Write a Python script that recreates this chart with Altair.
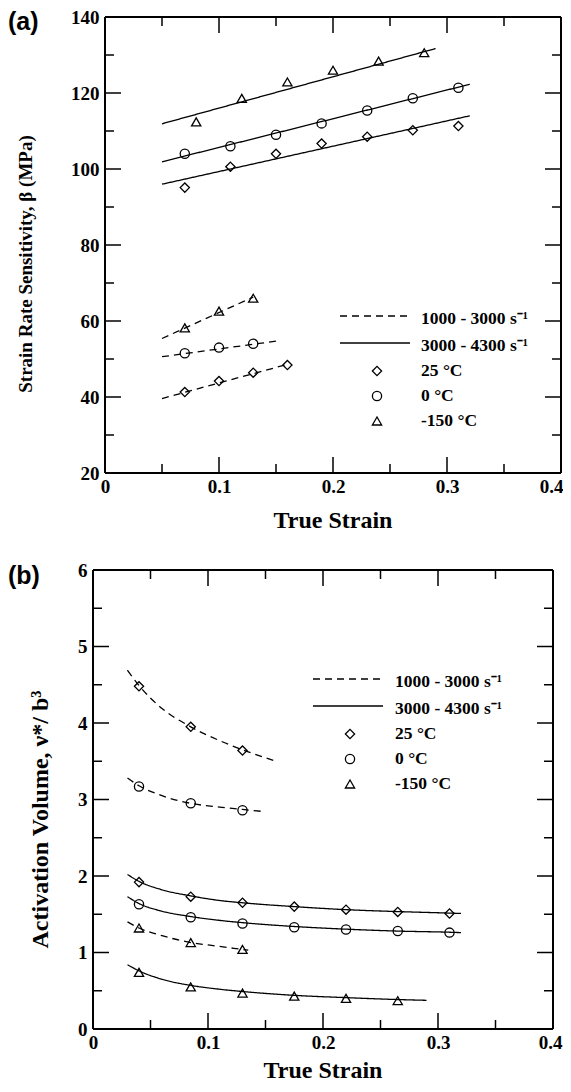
import altair as alt
import pandas as pd

SERIF = "Liberation Serif"
SANS = "Liberation Sans"

# ---------------- panel (a) data ----------------
a_x_hi = [0.07, 0.11, 0.15, 0.19, 0.23, 0.27, 0.31]
a_y_25_hi = [95.1, 100.6, 104.0, 106.7, 108.5, 110.2, 111.3]
a_y_0_hi = [104.0, 106.0, 109.0, 112.0, 115.4, 118.6, 121.4]
a_x_m150_hi = [0.08, 0.12, 0.16, 0.20, 0.24, 0.28]
a_y_m150_hi = [112.4, 118.6, 122.9, 126.0, 128.4, 130.6]
a_x_25_lo = [0.07, 0.10, 0.13, 0.16]
a_y_25_lo = [41.3, 44.2, 46.4, 48.4]
a_x_lo = [0.07, 0.10, 0.13]
a_y_0_lo = [51.5, 53.0, 54.0]
a_y_m150_lo = [58.2, 62.6, 66.0]

# fitted lines (end points)
a_fx_hi = [0.05, 0.32]
a_f25_hi = [96.0, 114.0]
a_f0_hi = [101.9, 122.3]
a_fx_m150_hi = [0.05, 0.29]
a_fm150_hi = [111.9, 131.7]
a_fx_25_lo = [0.05, 0.16]
a_f25_lo = [39.6, 48.6]
a_fx_0_lo = [0.05, 0.15]
a_f0_lo = [50.6, 54.7]
a_fx_m150_lo = [0.05, 0.13]
a_fm150_lo = [55.4, 66.3]

# ---------------- panel (b) data ----------------
b_x_hi = [0.04, 0.085, 0.13, 0.175, 0.22, 0.265, 0.31]
b_y_25_hi = [1.92, 1.73, 1.65, 1.60, 1.56, 1.53, 1.51]
b_y_0_hi = [1.63, 1.46, 1.38, 1.33, 1.30, 1.28, 1.26]
b_x_m150_hi = [0.04, 0.085, 0.13, 0.175, 0.22, 0.265]
b_y_m150_hi = [0.74, 0.55, 0.47, 0.43, 0.40, 0.37]
b_x_lo = [0.04, 0.085, 0.13]
b_y_25_lo = [4.48, 3.95, 3.64]
b_y_0_lo = [3.17, 2.95, 2.86]
b_y_m150_lo = [1.32, 1.13, 1.04]

# fitted curves
b_cx_hi = [0.03, 0.04, 0.06, 0.085, 0.11, 0.13, 0.175, 0.22, 0.265, 0.31, 0.32]
b_c25_hi = [2.02, 1.93, 1.82, 1.74, 1.68, 1.65, 1.60, 1.56, 1.535, 1.515, 1.51]
b_c0_hi = [1.73, 1.64, 1.54, 1.47, 1.42, 1.39, 1.34, 1.305, 1.28, 1.265, 1.26]
b_cx_m150_hi = [0.03, 0.04, 0.06, 0.085, 0.11, 0.13, 0.175, 0.22, 0.265, 0.29]
b_cm150_hi = [0.84, 0.76, 0.65, 0.57, 0.52, 0.49, 0.44, 0.41, 0.385, 0.375]
b_cx_25_lo = [0.03, 0.04, 0.06, 0.085, 0.11, 0.13, 0.157]
b_c25_lo = [4.69, 4.49, 4.19, 3.95, 3.77, 3.65, 3.51]
b_cx_0_lo = [0.03, 0.04, 0.06, 0.085, 0.11, 0.13, 0.15]
b_c0_lo = [3.28, 3.18, 3.05, 2.95, 2.90, 2.87, 2.84]
b_cx_m150_lo = [0.03, 0.04, 0.06, 0.085, 0.11, 0.135]
b_cm150_lo = [1.40, 1.32, 1.22, 1.13, 1.08, 1.03]

# ---------------- labels / ticks ----------------
temps = ["25 °C", "0 °C", "-150 °C"]
shapes = ["diamond", "circle", "triangle-up"]
rates = ["1000 - 3000 s⁻¹", "3000 - 4300 s⁻¹"]
x_title = "True Strain"
a_y_title = "Strain Rate Sensitivity, β (MPa)"
b_y_title = "Activation Volume, ν*/ b³"

x_range = [0, 0.4]
x_major = [0.1, 0.2, 0.3]
x_minor = [0.05, 0.15, 0.25, 0.35]
x_labels = [0, 0.1, 0.2, 0.3, 0.4]
a_y_range = [20, 140]
a_y_labels = [20, 40, 60, 80, 100, 120, 140]
a_y_major = [40, 60, 80, 100, 120]
a_y_minor = [30, 50, 70, 90, 110, 130]
b_y_range = [0, 6]
b_y_labels = [0, 1, 2, 3, 4, 5, 6]
b_y_major = [1, 2, 3, 4, 5]
b_y_minor = [0.5, 1.5, 2.5, 3.5, 4.5, 5.5]


def pts_df(groups):
    rows = []
    for xs, ys, t in groups:
        for x, y in zip(xs, ys):
            rows.append({"x": x, "y": y, "temp": t})
    return pd.DataFrame(rows)


def lines_df(groups):
    rows = []
    for xs, ys, t, r in groups:
        for x, y in zip(xs, ys):
            rows.append({"x": x, "y": y, "curve": t + r, "rate": r})
    return pd.DataFrame(rows)


a_pts = pts_df([
    (a_x_hi, a_y_25_hi, temps[0]), (a_x_hi, a_y_0_hi, temps[1]),
    (a_x_m150_hi, a_y_m150_hi, temps[2]),
    (a_x_25_lo, a_y_25_lo, temps[0]), (a_x_lo, a_y_0_lo, temps[1]),
    (a_x_lo, a_y_m150_lo, temps[2]),
])
a_lines = lines_df([
    (a_fx_hi, a_f25_hi, temps[0], rates[1]), (a_fx_hi, a_f0_hi, temps[1], rates[1]),
    (a_fx_m150_hi, a_fm150_hi, temps[2], rates[1]),
    (a_fx_25_lo, a_f25_lo, temps[0], rates[0]), (a_fx_0_lo, a_f0_lo, temps[1], rates[0]),
    (a_fx_m150_lo, a_fm150_lo, temps[2], rates[0]),
])
b_pts = pts_df([
    (b_x_hi, b_y_25_hi, temps[0]), (b_x_hi, b_y_0_hi, temps[1]),
    (b_x_m150_hi, b_y_m150_hi, temps[2]),
    (b_x_lo, b_y_25_lo, temps[0]), (b_x_lo, b_y_0_lo, temps[1]),
    (b_x_lo, b_y_m150_lo, temps[2]),
])
b_lines = lines_df([
    (b_cx_hi, b_c25_hi, temps[0], rates[1]), (b_cx_hi, b_c0_hi, temps[1], rates[1]),
    (b_cx_m150_hi, b_cm150_hi, temps[2], rates[1]),
    (b_cx_25_lo, b_c25_lo, temps[0], rates[0]), (b_cx_0_lo, b_c0_lo, temps[1], rates[0]),
    (b_cx_m150_lo, b_cm150_lo, temps[2], rates[0]),
])

shape_scale = alt.Scale(domain=temps, range=shapes)
dash_scale = alt.Scale(domain=rates, range=[[7, 5], [1, 0]])
dummy = pd.DataFrame({"k": [0]})


def txt(x, y, s, size, font=SERIF, align="left", baseline="middle", angle=0):
    kw = dict(font=font, fontWeight="bold", fontSize=size, align=align,
              baseline=baseline, color="black")
    if angle:
        kw["angle"] = angle
    return alt.Chart(dummy).mark_text(**kw).encode(
        x=alt.value(x), y=alt.value(y), text=alt.value(s))


def panel(pts, lines, yrng, ylabels, ymaj, ymin, ytitle, W, H, lpad,
          last_off, ytitle_x, ytitle_dy, ytitle_size, xtitle_y,
          tag, tag_x, tag_y, leg):
    # lpad: empty strip (px) left of the frame inside the view
    d = (x_range[1] - x_range[0]) * lpad / W
    Wv = W + lpad
    xs = alt.Scale(domain=[x_range[0] - d, x_range[1]], nice=False, zero=False)
    ys = alt.Scale(domain=yrng, nice=False, zero=False)
    last = "datum.value >= 0.399"
    xaxis = alt.Axis(values=x_labels, format="~r", ticks=False, domain=False,
                     grid=False, labelFont=SERIF, labelFontWeight="bold",
                     labelFontSize=19, labelColor="black", labelPadding=4,
                     labelFlush=False,
                     labelOffset={"condition": {"test": last, "value": last_off},
                                  "value": 0},
                     title=None)
    yaxis = alt.Axis(values=ylabels, format="~r", ticks=False, domain=False,
                     grid=False, labelFont=SERIF, labelFontWeight="bold",
                     labelFontSize=19, labelColor="black", labelPadding=6,
                     labelFlush=False, offset=-lpad, title=None)
    X = alt.X("x:Q", scale=xs, axis=xaxis)
    Y = alt.Y("y:Q", scale=ys, axis=yaxis)

    layers = []
    layers.append(alt.Chart(lines).mark_line(
        color="black", strokeWidth=1.3, interpolate="monotone").encode(
        x=X, y=Y, detail="curve:N",
        strokeDash=alt.StrokeDash("rate:N", scale=dash_scale, legend=None)))
    layers.append(alt.Chart(pts).mark_point(
        filled=False, color="black", size=85, strokeWidth=1.3, opacity=1).encode(
        x=X, y=Y, shape=alt.Shape("temp:N", scale=shape_scale, legend=None)))

    # frame
    fx = pd.DataFrame({"x": x_range})
    layers.append(alt.Chart(fx).mark_rule(color="black", strokeWidth=2).encode(
        x=X, y=alt.value(0), y2=alt.value(H)))
    fh = pd.DataFrame({"x": [x_range[0]], "x2": [x_range[1]]})
    for yv in (0, H):
        layers.append(alt.Chart(fh).mark_rule(color="black", strokeWidth=2).encode(
            x=X, x2="x2:Q", y=alt.value(yv)))

    # inward ticks on all four sides
    def xt(vals, L):
        dd = pd.DataFrame({"x": vals})
        return [
            alt.Chart(dd).mark_rule(color="black", strokeWidth=1.5).encode(
                x=X, y=alt.value(H), y2=alt.value(H - L)),
            alt.Chart(dd).mark_rule(color="black", strokeWidth=1.5).encode(
                x=X, y=alt.value(0), y2=alt.value(L)),
        ]

    def yt(vals, L):
        dd = pd.DataFrame({"y": vals})
        return [
            alt.Chart(dd).mark_rule(color="black", strokeWidth=1.5).encode(
                y=Y, x=alt.value(lpad), x2=alt.value(lpad + L)),
            alt.Chart(dd).mark_rule(color="black", strokeWidth=1.5).encode(
                y=Y, x=alt.value(Wv), x2=alt.value(Wv - L)),
        ]

    layers += xt(x_major, 16) + xt(x_minor, 9) + yt(ymaj, 16) + yt(ymin, 9)

    # legend
    lx0, lx1, ly, tx, sx, dy = leg
    lx0 += lpad; lx1 += lpad; tx += lpad; sx += lpad
    layers.append(alt.Chart(dummy).mark_rule(
        color="black", strokeWidth=1.3, strokeDash=[7, 5]).encode(
        x=alt.value(lx0), x2=alt.value(lx1), y=alt.value(ly)))
    layers.append(alt.Chart(dummy).mark_rule(color="black", strokeWidth=1.3).encode(
        x=alt.value(lx0), x2=alt.value(lx1), y=alt.value(ly + dy + 2)))
    for i, r in enumerate(rates):
        layers.append(txt(tx, ly + 3 + i * (dy + 2), r, 17.5))
    for i, (t, s) in enumerate(zip(temps, shapes)):
        yy = ly + 2 * (dy + 2) + 1 + i * dy
        layers.append(alt.Chart(dummy).mark_point(
            shape=s, filled=False, color="black", size=85, strokeWidth=1.3,
            opacity=1).encode(x=alt.value(sx), y=alt.value(yy)))
        layers.append(txt(tx, yy, t, 17.5))

    # titles and panel tag
    layers.append(txt(lpad + W / 2, H + xtitle_y, x_title, 24, align="center",
                      baseline="top"))
    layers.append(txt(lpad + ytitle_x, H / 2 + ytitle_dy, ytitle, ytitle_size,
                      align="center", baseline="middle", angle=270))
    layers.append(txt(tag_x, tag_y, tag, 25, font=SANS))

    return alt.layer(*layers).properties(width=Wv, height=H)


top = panel(a_pts, a_lines, a_y_range, a_y_labels, a_y_major, a_y_minor,
            a_y_title, 456, 456, 12, -10, -79, 19, 19, 36,
            "(a)", -85, 5, (235, 305, 299, 316, 272, 25))
bottom = panel(b_pts, b_lines, b_y_range, b_y_labels, b_y_major, b_y_minor,
               b_y_title, 460, 459, 0, -3, -52, 20, 24, 30,
               "(b)", -85, 6, (220, 290, 109, 302, 257, 25))

chart = alt.vconcat(top, bottom, spacing=28).properties(
    padding=0, background="white"
).configure_view(strokeWidth=0)

chart.save("out.html", embed_options={"renderer": "svg", "actions": False})
